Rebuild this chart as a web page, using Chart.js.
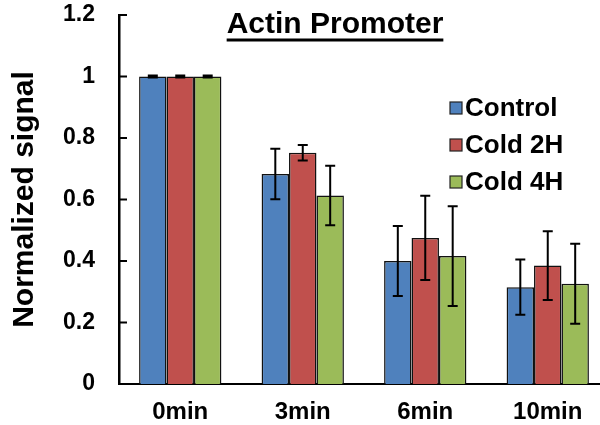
<!DOCTYPE html>
<html>
<head>
<meta charset="utf-8">
<script src="https://cdn.jsdelivr.net/npm/chart.js@4.4.1/dist/chart.umd.min.js"></script>
<style>
  html, body { margin: 0; padding: 0; background: #fff; }
  canvas { display: block; }
</style>
</head>
<body>
<canvas id="chActin" width="600" height="425"></canvas>
<script>
var categories = ['0min', '3min', '6min', '10min'];
var seriesNames = ['Control', 'Cold 2H', 'Cold 4H'];
var control = [1, 0.683, 0.40, 0.315];
var cold2h = [1, 0.752, 0.475, 0.385];
var cold4h = [1, 0.613, 0.416, 0.326];
var controlErr = [0.003, 0.082, 0.114, 0.09];
var cold2hErr = [0.003, 0.025, 0.137, 0.112];
var cold4hErr = [0.003, 0.097, 0.162, 0.13];
var yTicks = [0, 0.2, 0.4, 0.6, 0.8, 1, 1.2];
var yTickLabels = ['0', '0.2', '0.4', '0.6', '0.8', '1', '1.2'];

var colors = ['#4f81bd', '#c0504d', '#9bbb59'];
var fontFamily = '"Liberation Sans", Arial, sans-serif';

function makeSet(i, values, errs) {
  return {
    label: seriesNames[i],
    data: values,
    errors: errs,
    backgroundColor: colors[i],
    borderColor: '#111',
    borderWidth: 1.5,
    categoryPercentage: 0.672,
    barPercentage: 1
  };
}

// pin the plot area: top at 15px, x axis running a bit past the right edge
var plotArea = {
  id: 'plotArea',
  afterLayout: function (chart) {
    var a = chart.chartArea, x = chart.scales.x, y = chart.scales.y;
    a.top = 15; a.right = 609;
    a.width = a.right - a.left; a.height = a.bottom - a.top;
    x.right = 609; x.width = x.right - x.left;
    y.top = 15; y.height = y.bottom - y.top;
    x.configure(); y.configure();
  }
};

// error bars on top of each bar
var errorBars = {
  id: 'errorBars',
  afterDatasetsDraw: function (chart) {
    var ctx = chart.ctx;
    var y = chart.scales.y;
    ctx.save();
    ctx.strokeStyle = '#000';
    ctx.lineWidth = 2;
    chart.data.datasets.forEach(function (ds, i) {
      var meta = chart.getDatasetMeta(i);
      meta.data.forEach(function (bar, j) {
        var v = ds.data[j], e = ds.errors[j];
        var top = y.getPixelForValue(v + e);
        var bot = y.getPixelForValue(v - e);
        ctx.beginPath();
        ctx.moveTo(bar.x, top); ctx.lineTo(bar.x, bot);
        ctx.moveTo(bar.x - 5, top); ctx.lineTo(bar.x + 5, top);
        ctx.moveTo(bar.x - 5, bot); ctx.lineTo(bar.x + 5, bot);
        ctx.stroke();
      });
    });
    ctx.restore();
  }
};

// inward tick marks, title and legend
var extras = {
  id: 'extras',
  afterDraw: function (chart) {
    var ctx = chart.ctx;
    var area = chart.chartArea;
    var y = chart.scales.y;
    ctx.save();
    ctx.strokeStyle = '#000';
    ctx.lineWidth = 2;
    yTicks.forEach(function (t) {
      var py = y.getPixelForValue(t);
      ctx.beginPath();
      ctx.moveTo(area.left, py);
      ctx.lineTo(area.left + 8, py);
      ctx.stroke();
    });

    // title, underlined
    ctx.fillStyle = '#000';
    ctx.font = 'bold 30px ' + fontFamily;
    ctx.textAlign = 'center';
    ctx.textBaseline = 'alphabetic';
    var title = 'Actin Promoter';
    var tx = 335, tw = ctx.measureText(title).width;
    ctx.fillText(title, tx, 33);
    ctx.lineWidth = 3;
    ctx.beginPath();
    ctx.moveTo(tx - tw / 2, 40);
    ctx.lineTo(tx + tw / 2, 40);
    ctx.stroke();

    // legend
    ctx.font = 'bold 26px ' + fontFamily;
    ctx.textAlign = 'left';
    ctx.textBaseline = 'middle';
    ctx.lineWidth = 1.2;
    chart.data.datasets.forEach(function (ds, i) {
      var cy = 108 + i * 37;
      ctx.fillStyle = ds.backgroundColor;
      ctx.fillRect(450, cy - 6, 12, 12);
      ctx.strokeStyle = '#222';
      ctx.strokeRect(450, cy - 6, 12, 12);
      ctx.fillStyle = '#000';
      ctx.fillText(ds.label, 465, cy + 1);
    });
    ctx.restore();
  }
};

new Chart(document.getElementById('chActin'), {
  type: 'bar',
  data: {
    labels: categories,
    datasets: [
      makeSet(0, control, controlErr),
      makeSet(1, cold2h, cold2hErr),
      makeSet(2, cold4h, cold4hErr)
    ]
  },
  options: {
    responsive: false,
    animation: false,
    layout: { padding: { top: 15, right: 0, bottom: 0, left: 0 } },
    plugins: {
      legend: { display: false },
      tooltip: { enabled: false }
    },
    scales: {
      x: {
        grid: { display: false, drawTicks: false },
        border: { display: true, color: '#000', width: 2 },
        ticks: {
          color: '#000',
          padding: 14,
          font: { family: fontFamily, size: 24, weight: 'bold' }
        },
        afterFit: function (s) { s.height = 41; }
      },
      y: {
        min: 0,
        max: 1.2,
        afterBuildTicks: function (s) {
          s.ticks = yTicks.map(function (v) { return { value: v }; });
        },
        grid: { display: false, drawTicks: false },
        border: { display: true, color: '#000', width: 2.5 },
        ticks: {
          color: '#000',
          padding: 24,
          font: { family: fontFamily, size: 23, weight: 'bold' },
          callback: function (v, i) { return yTickLabels[i]; }
        },
        title: {
          display: true,
          text: 'Normalized signal',
          color: '#000',
          padding: { top: 7, bottom: 0 },
          font: { family: fontFamily, size: 30, weight: 'bold', lineHeight: 1.2 }
        },
        afterFit: function (s) { s.width = 119; }
      }
    }
  },
  plugins: [plotArea, errorBars, extras]
});
</script>
</body>
</html>
